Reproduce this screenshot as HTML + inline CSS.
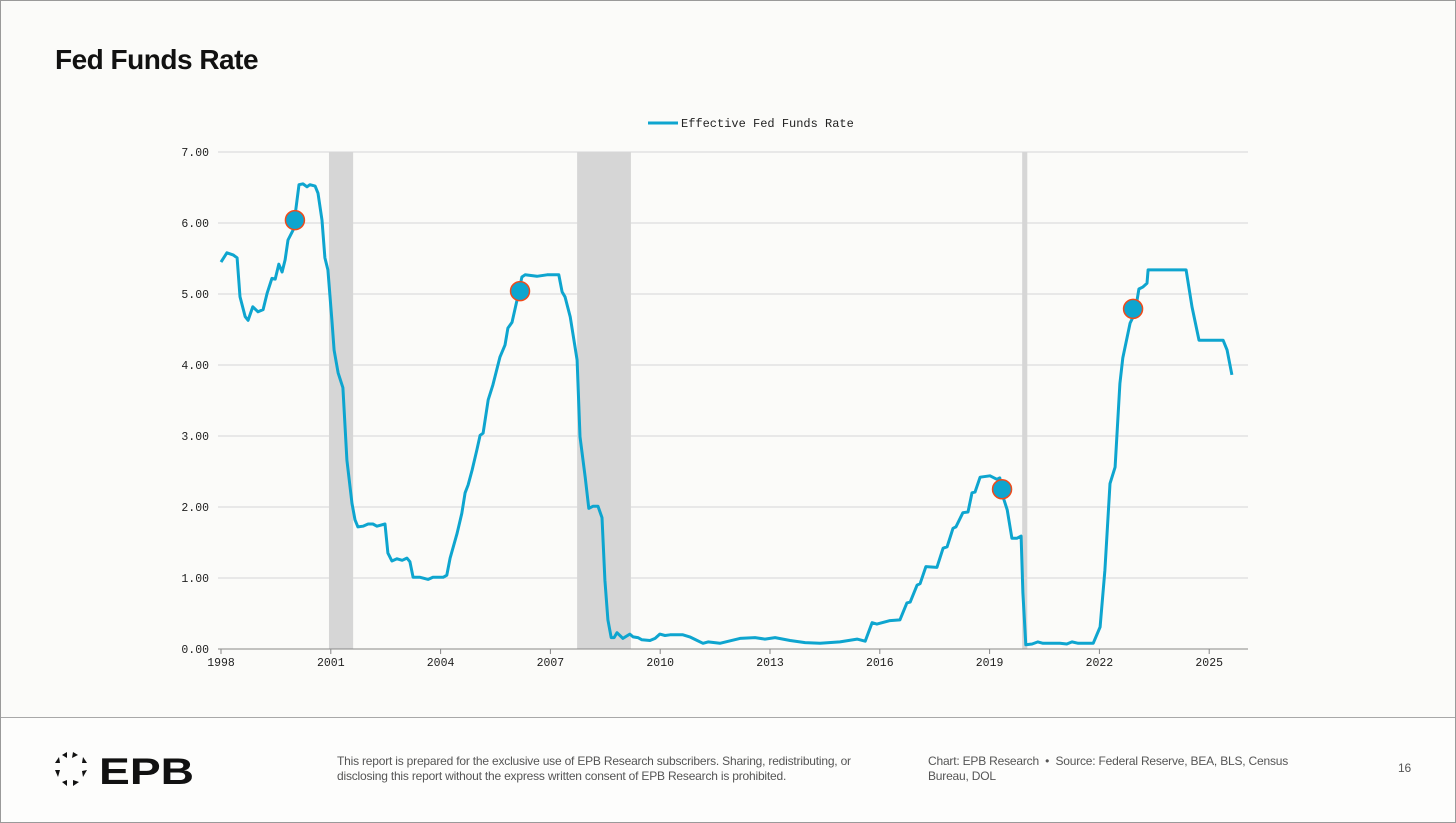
<!DOCTYPE html>
<html><head><meta charset="utf-8">
<style>
html,body{margin:0;padding:0;}
body{width:1456px;height:823px;background:#fbfbf9;font-family:"Liberation Sans",sans-serif;position:relative;overflow:hidden;}
#frame{position:absolute;left:0;top:0;width:1454px;height:821px;border:1px solid #9a9a9a;}
#title{position:absolute;left:55px;top:44px;font-size:28px;font-weight:bold;color:#111;letter-spacing:-0.5px;}
#footer{position:absolute;left:1px;top:717px;width:1454px;height:104px;background:#fdfdfc;border-top:1px solid #a8a8a8;}
.ft{position:absolute;font-size:12px;color:#555;line-height:15px;letter-spacing:-0.2px;}
</style></head>
<body>
<div id="frame"></div>
<div id="title">Fed Funds Rate</div>
<svg id="chart" width="1456" height="716" style="position:absolute;left:0;top:0"></svg>
<div id="footer">
  <svg style="position:absolute;left:52px;top:31px" width="160" height="40">
    <g fill="#111">
      <polygon points="20,3 25,6 19,9"/><polygon points="30,8 34,14 29,14"/><polygon points="34,21 30,28 29,22"/>
      <polygon points="26,33 20,37 20,31"/><polygon points="14,37 9,33 14,31"/><polygon points="5,28 2,21 7,21"/>
      <polygon points="2,14 6,8 7,14"/><polygon points="9,6 14,3 14,9"/>
    </g>
    <text x="46" y="35" font-family="Liberation Sans" font-weight="bold" font-size="37" fill="#111" textLength="95" lengthAdjust="spacingAndGlyphs">EPB</text>
  </svg>
  <div class="ft" style="left:336px;top:36px;width:545px;">This report is prepared for the exclusive use of EPB Research subscribers. Sharing, redistributing, or disclosing this report without the express written consent of EPB Research is prohibited.</div>
  <div class="ft" style="left:927px;top:36px;width:400px;">Chart: EPB Research &nbsp;•&nbsp; Source: Federal Reserve, BEA, BLS, Census Bureau, DOL</div>
  <div class="ft" style="left:1397px;top:43px;">16</div>
</div>
<script>
const yearOffsets=[
0.00,0.16,0.33,0.44,0.52,0.66,0.74,0.87,1.01,1.15,
1.26,1.39,1.48,1.58,1.67,1.75,1.83,1.97,2.05,2.13,
2.24,2.35,2.43,2.57,2.65,2.76,2.84,2.92,3.03,3.09,
3.20,3.33,3.44,3.58,3.66,3.74,3.88,4.02,4.15,4.26,
4.48,4.56,4.67,4.81,4.95,5.08,5.16,5.25,5.44,5.66,
5.79,6.07,6.17,6.26,6.45,6.58,6.67,6.75,6.86,6.99,
7.08,7.16,7.30,7.43,7.62,7.76,7.84,7.95,8.09,8.22,
8.31,8.63,8.91,9.23,9.32,9.40,9.54,9.73,9.81,9.95,
10.05,10.16,10.30,10.41,10.49,10.57,10.66,10.74,10.82,10.98,
11.17,11.26,11.39,11.50,11.72,11.86,11.99,12.13,12.27,12.62,
12.81,13.01,13.17,13.31,13.63,14.18,14.59,14.86,15.14,15.55,
15.96,16.37,16.91,17.38,17.60,17.79,17.92,18.28,18.55,18.74,
18.83,19.02,19.10,19.26,19.56,19.73,19.84,20.00,20.08,20.27,
20.41,20.52,20.60,20.74,21.01,21.20,21.28,21.37,21.48,21.61,
21.75,21.86,21.91,21.99,22.16,22.32,22.46,22.92,23.11,23.25,
23.42,23.83,24.02,24.15,24.29,24.43,24.56,24.64,24.84,24.97,
25.08,25.19,25.30,25.33,26.37,26.53,26.72,27.38,27.49,27.62];
const rates=[
5.45,5.58,5.55,5.51,4.96,4.68,4.63,4.82,4.75,4.78,
5.01,5.22,5.21,5.42,5.31,5.48,5.76,5.90,6.21,6.54,
6.55,6.51,6.54,6.52,6.42,6.04,5.51,5.34,4.63,4.21,
3.89,3.68,2.66,2.05,1.82,1.72,1.73,1.76,1.76,1.73,
1.76,1.35,1.24,1.27,1.25,1.28,1.23,1.01,1.01,0.98,
1.01,1.01,1.04,1.28,1.63,1.91,2.20,2.31,2.52,2.80,
3.01,3.04,3.51,3.72,4.11,4.28,4.52,4.60,4.92,5.24,
5.27,5.25,5.27,5.27,5.03,4.96,4.68,4.07,2.99,2.42,
1.98,2.01,2.01,1.85,0.97,0.41,0.16,0.16,0.23,0.15,
0.21,0.17,0.16,0.13,0.12,0.15,0.21,0.19,0.20,0.20,
0.17,0.12,0.08,0.10,0.08,0.15,0.16,0.14,0.16,0.12,
0.09,0.08,0.10,0.14,0.11,0.37,0.35,0.40,0.41,0.65,
0.66,0.90,0.92,1.16,1.15,1.42,1.44,1.70,1.72,1.92,
1.93,2.20,2.21,2.42,2.44,2.39,2.41,2.14,1.96,1.56,
1.56,1.59,0.79,0.06,0.07,0.10,0.08,0.08,0.07,0.10,
0.08,0.08,0.31,1.11,2.33,2.56,3.74,4.10,4.59,4.73,
5.07,5.10,5.15,5.34,5.34,4.82,4.35,4.35,4.21,3.86];
const startYear=1998;
const markerYears=[2000.02,2006.17,2019.34,2022.92];
const markerValues=[6.04,5.04,2.25,4.79];
const recessionStart=[2000.95,2007.73,2019.89];
const recessionEnd=[2001.61,2009.20,2020.03];
const yTicks=[0,1,2,3,4,5,6,7];
const xTicks=[1998,2001,2004,2007,2010,2013,2016,2019,2022,2025];

const NS="http://www.w3.org/2000/svg";
const svg=document.getElementById('chart');
const X0=221,PX=36.6,Y0=649,PY=71;
const xs=y=>X0+(y-1998)*PX;
const ys=v=>Y0-v*PY;
function mk(tag,attrs){const e=document.createElementNS(NS,tag);for(const k in attrs)e.setAttribute(k,attrs[k]);svg.appendChild(e);return e;}

yTicks.forEach(t=>{
  const l=mk('line',{x1:218,x2:1248,y1:ys(t),y2:ys(t),stroke:'#d6d6d6','stroke-width':1});
  
  
  const tx=mk('text',{x:209,y:ys(t)+4,'text-anchor':'end','font-family':'Liberation Mono','font-size':11.5,fill:'#222'});
  tx.textContent=t.toFixed(2);
  
  
});
recessionStart.forEach((s,i)=>{
  const r=mk('rect',{x:xs(s),y:ys(7),width:xs(recessionEnd[i])-xs(s),height:ys(0)-ys(7),fill:'#d6d6d6'});
  
  
});
const ax=mk('line',{x1:218,x2:1248,y1:Y0,y2:Y0,stroke:'#888','stroke-width':1});


xTicks.forEach(t=>{
  const tk=mk('line',{x1:xs(t),x2:xs(t),y1:Y0,y2:Y0+5,stroke:'#888'});
  
  
  const tx=mk('text',{x:xs(t),y:Y0+17,'text-anchor':'middle','font-family':'Liberation Mono','font-size':11.5,fill:'#222'});
  tx.textContent=t;
  
  
});
const pts=rates.map((v,i)=>xs(startYear+yearOffsets[i]).toFixed(1)+','+ys(v).toFixed(1)).join(' ');
const line=mk('polyline',{points:pts,fill:'none',stroke:'#0ea5cf','stroke-width':3,'stroke-linejoin':'round'});


markerYears.forEach((y,i)=>{
  const c=mk('circle',{cx:xs(y),cy:ys(markerValues[i]),r:9.5,fill:'#0ea5cf',stroke:'#f04a1a','stroke-width':1.5});
  
  
});
const lg=mk('line',{x1:648,x2:678,y1:123,y2:123,stroke:'#0ea5cf','stroke-width':3});


const lt=mk('text',{x:681,y:127,'font-family':'Liberation Mono','font-size':12,fill:'#222'});
lt.textContent='Effective Fed Funds Rate';


</script>
</body></html>
